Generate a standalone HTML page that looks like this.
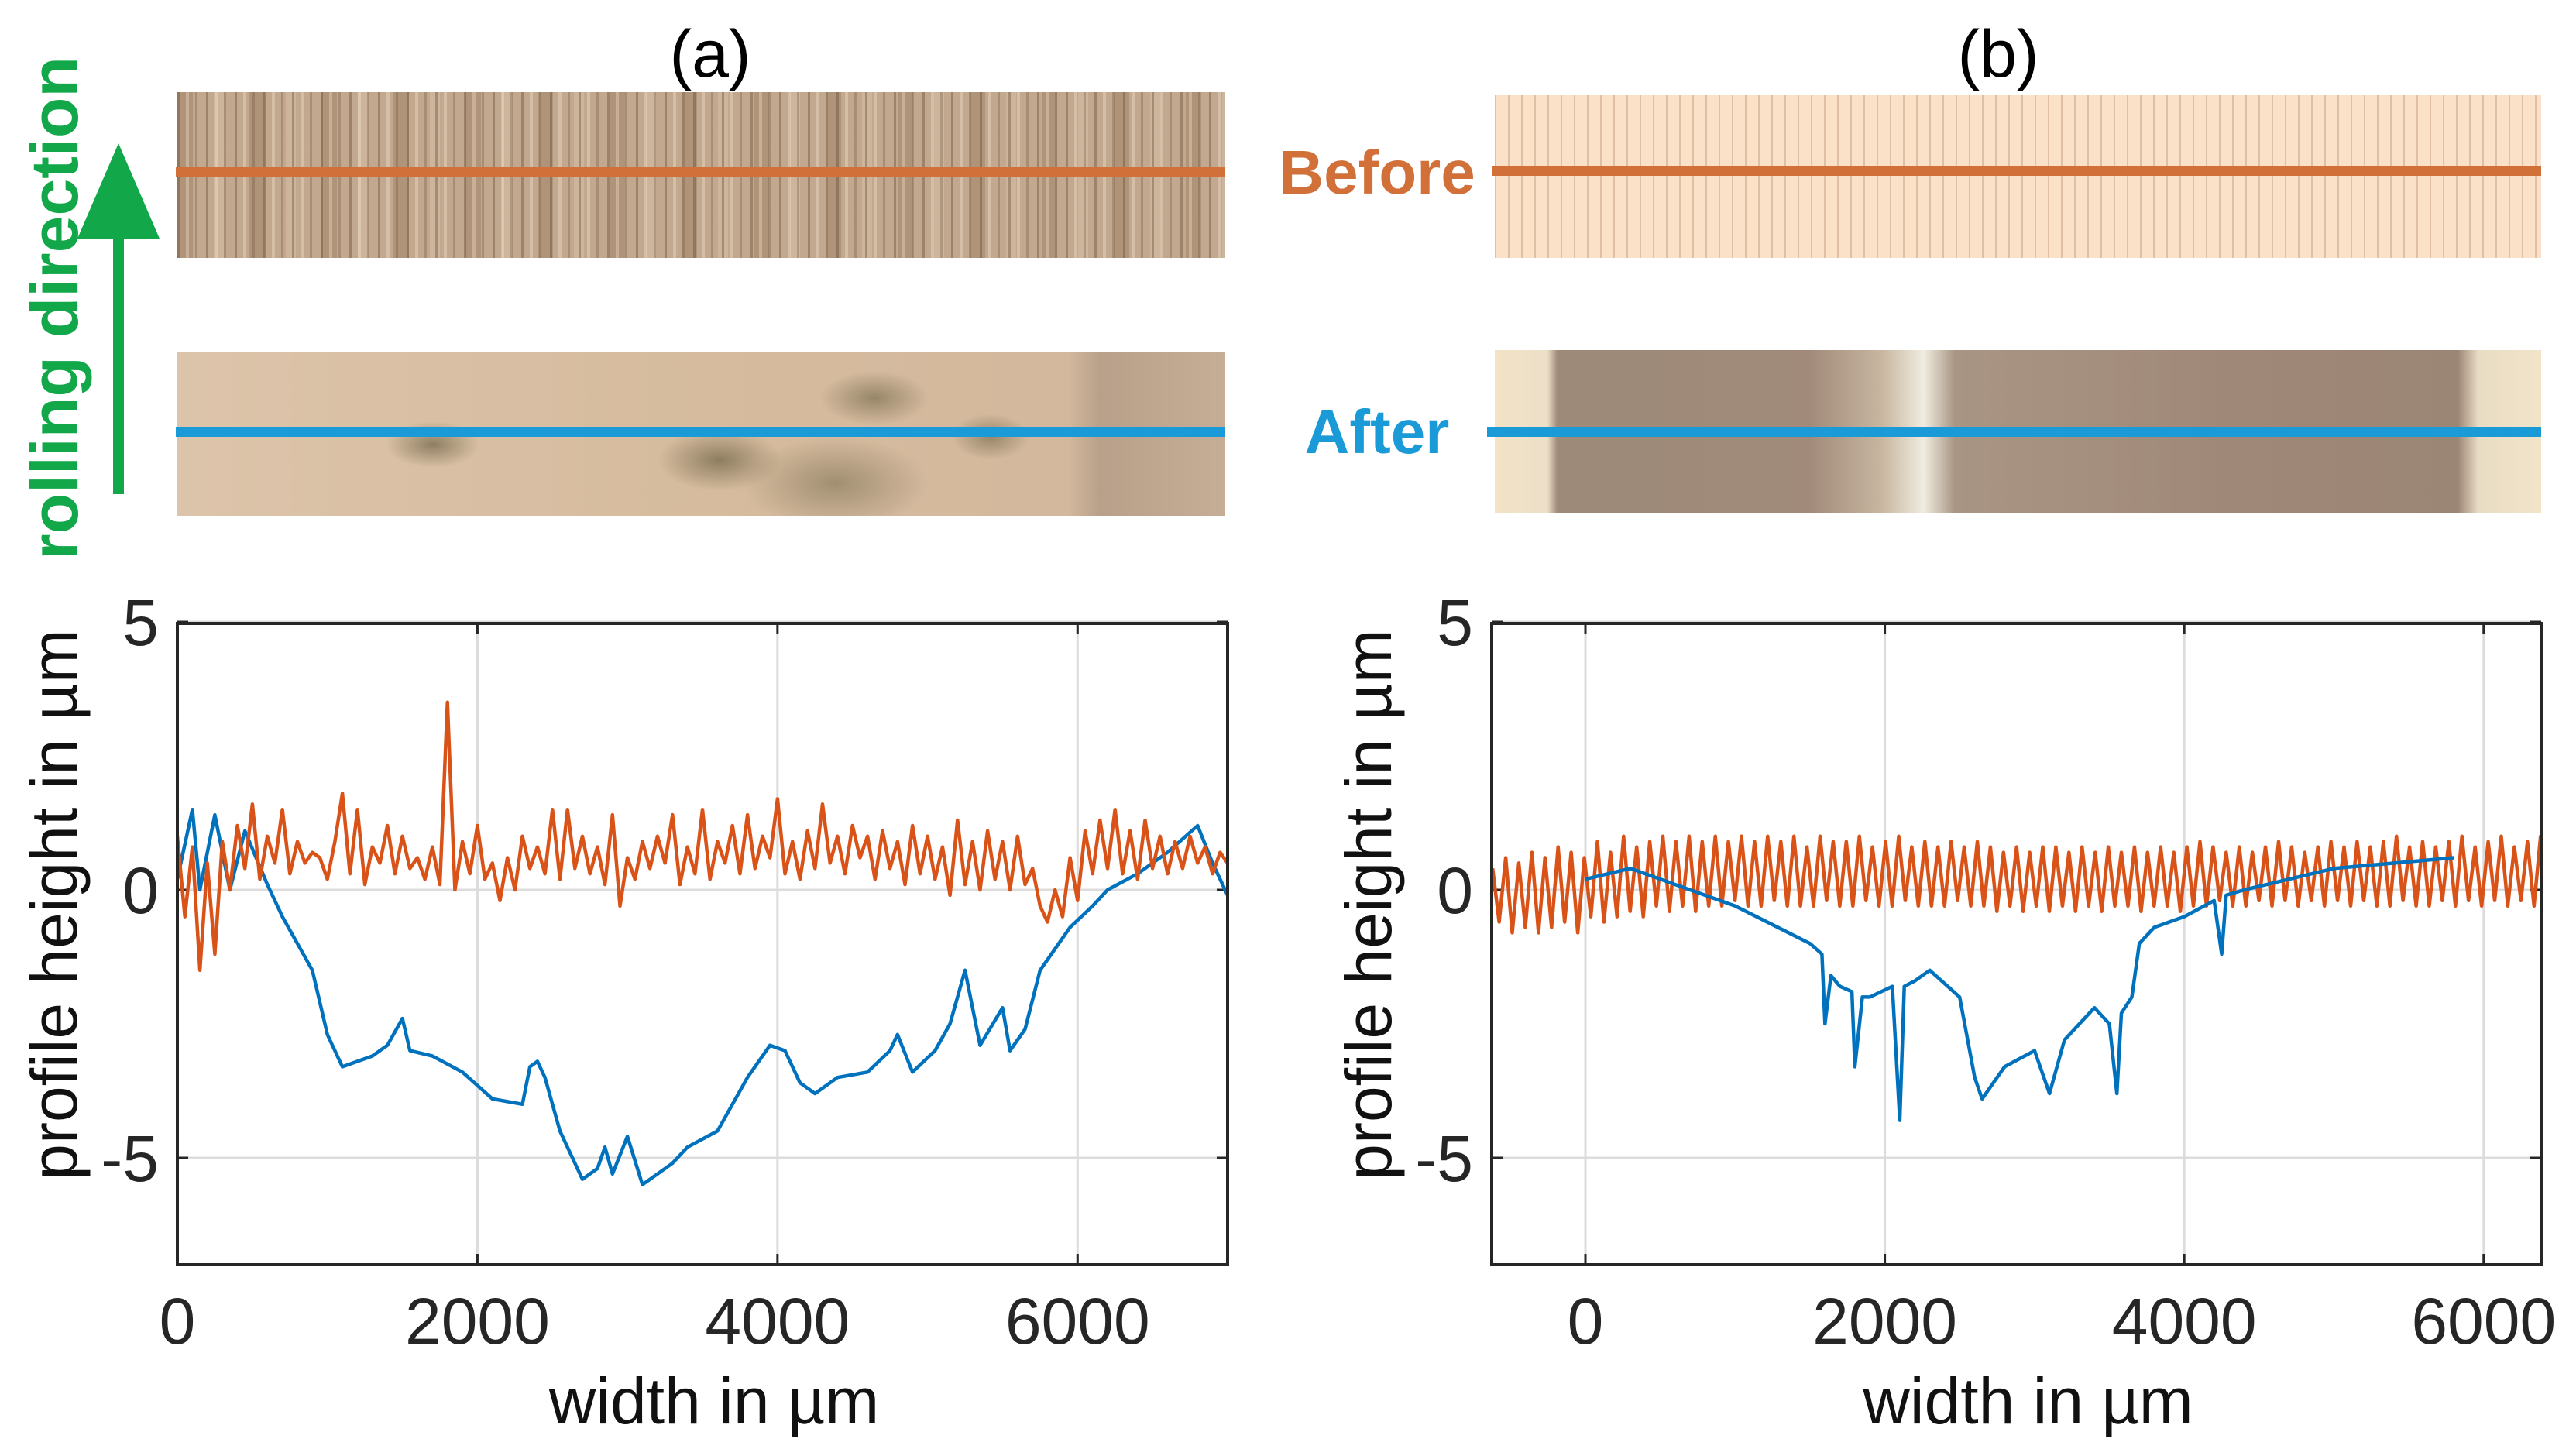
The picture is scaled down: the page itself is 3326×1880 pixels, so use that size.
<!DOCTYPE html>
<html><head><meta charset="utf-8">
<style>
html,body{margin:0;padding:0;background:#fff;}
body{width:3326px;height:1880px;position:relative;overflow:hidden;font-family:"Liberation Sans",sans-serif;}
.img{position:absolute;}
#bA{left:229px;top:119px;width:1353px;height:214px;background:
repeating-linear-gradient(90deg,rgba(90,60,40,.35) 0 3px,transparent 3px 11px,rgba(255,240,220,.3) 11px 15px,transparent 15px 23px,rgba(110,80,55,.3) 23px 26px,transparent 26px 37px),
repeating-linear-gradient(90deg,rgba(120,90,60,.25) 0 20px,transparent 20px 47px,rgba(230,210,190,.3) 47px 60px,transparent 60px 93px),
#c2a88e;}
#aA{left:229px;top:454px;width:1353px;height:212px;background:
radial-gradient(ellipse 60px 30px at 330px 120px,rgba(110,100,70,.7),transparent),
radial-gradient(ellipse 80px 40px at 700px 140px,rgba(110,100,70,.7),transparent),
radial-gradient(ellipse 70px 35px at 900px 60px,rgba(110,100,70,.6),transparent),
radial-gradient(ellipse 120px 60px at 850px 170px,rgba(110,100,70,.5),transparent),
radial-gradient(ellipse 50px 30px at 1050px 110px,rgba(110,100,70,.6),transparent),
linear-gradient(90deg,#dcc4aa 0,#d6bb9e 50%,#d3b89d 85%,#b9a08a 88%,#c6ad95 100%);}
#bB{left:1930px;top:123px;width:1351px;height:210px;background:
repeating-linear-gradient(90deg,rgba(170,130,100,.35) 0 2px,transparent 2px 17px),#fbe1c8;}
#aB{left:1930px;top:452px;width:1351px;height:210px;background:
linear-gradient(90deg,#f2e2c6 0,#ede0c8 5%,#9d8a78 6%,#a18a7a 30%,#c8b6a0 37%,#f0ece0 41%,#a99584 44%,#a08878 70%,#9b8575 92%,#e8dcc4 94%,#f2e4c9 100%),#a08a78;}
</style></head><body>
<div class="img" id="bA"></div>
<div class="img" id="aA"></div>
<div class="img" id="bB"></div>
<div class="img" id="aB"></div>
<svg id="svg" width="3326" height="1880" style="position:absolute;left:0;top:0" xmlns="http://www.w3.org/2000/svg" font-family="Liberation Sans, sans-serif">
<g>
<rect x="227" y="216" width="1355" height="13" fill="#d2703a"/>
<rect x="227" y="551" width="1355" height="13" fill="#1a9ad6"/>
<rect x="1926" y="214" width="1355" height="13" fill="#d2703a"/>
<rect x="1920" y="551" width="1361" height="13" fill="#1a9ad6"/>
</g>
<text x="917" y="99" font-size="86" text-anchor="middle">(a)</text>
<text x="2580" y="99" font-size="86" text-anchor="middle">(b)</text>
<text x="1778" y="250" font-size="80" font-weight="bold" fill="#d2703a" text-anchor="middle">Before</text>
<text x="1778" y="585" font-size="80" font-weight="bold" fill="#1a9ad6" text-anchor="middle">After</text>
<text transform="translate(100,398) rotate(-90)" font-size="86" font-weight="bold" fill="#12a84a" text-anchor="middle">rolling direction</text>
<g>
<rect x="146" y="300" width="14" height="338" fill="#12a84a"/>
<polygon points="153,185 100,308 206,308" fill="#12a84a"/>
</g>
<g id="plots"></g>
</svg>
<script>
// Panel (a) data
const aXTicks=[0,2000,4000,6000];
const aXTickLabels=["0","2000","4000","6000"];
const yTicks=[5,0,-5];
const yTickLabels=["5","0","-5"];
const aBeforeStart=0, aBeforeStep=50;
const aBefore=[1.0,-0.5,0.8,-1.5,0.5,-1.2,0.9,0.0,1.2,0.4,1.6,0.2,1.0,0.5,1.5,0.3,0.9,0.5,0.7,0.6,0.2,0.9,1.8,0.3,1.5,0.1,0.8,0.5,1.2,0.3,1.0,0.4,0.6,0.2,0.8,0.1,3.5,0.0,0.9,0.3,1.2,0.2,0.5,-0.2,0.6,0.0,1.0,0.4,0.8,0.3,1.5,0.2,1.5,0.4,1.0,0.3,0.8,0.1,1.4,-0.3,0.6,0.2,0.9,0.4,1.0,0.5,1.4,0.1,0.8,0.3,1.5,0.2,0.9,0.5,1.2,0.3,1.4,0.4,1.0,0.6,1.7,0.3,0.9,0.2,1.1,0.4,1.6,0.5,1.0,0.3,1.2,0.6,1.0,0.2,1.1,0.4,0.9,0.1,1.2,0.3,1.0,0.2,0.8,-0.1,1.3,0.1,0.9,0.0,1.1,0.2,0.9,0.0,1.0,0.1,0.4,-0.3,-0.6,0.0,-0.5,0.6,-0.2,1.1,0.3,1.3,0.4,1.5,0.3,1.1,0.2,1.3,0.4,1.0,0.3,0.9,0.4,1.0,0.5,0.8,0.3,0.7,0.5];
const aAfterX=[0,100,150,250,350,450,600,700,900,1000,1100,1300,1400,1500,1550,1700,1900,2100,2300,2350,2400,2450,2550,2700,2800,2850,2900,3000,3100,3200,3300,3400,3600,3800,3950,4050,4150,4250,4400,4600,4750,4800,4900,5050,5150,5250,5350,5500,5550,5650,5750,5950,6100,6200,6400,6600,6800,6900,7000];
const aAfterY=[0.2,1.5,0,1.4,0,1.1,0.1,-0.5,-1.5,-2.7,-3.3,-3.1,-2.9,-2.4,-3.0,-3.1,-3.4,-3.9,-4.0,-3.3,-3.2,-3.5,-4.5,-5.4,-5.2,-4.8,-5.3,-4.6,-5.5,-5.3,-5.1,-4.8,-4.5,-3.5,-2.9,-3.0,-3.6,-3.8,-3.5,-3.4,-3.0,-2.7,-3.4,-3.0,-2.5,-1.5,-2.9,-2.2,-3.0,-2.6,-1.5,-0.7,-0.3,0,0.3,0.7,1.2,0.5,-0.1];
// Panel (b) data
const bXTicks=[0,2000,4000,6000];
const bXTickLabels=["0","2000","4000","6000"];
const bBeforeStart=-620, bBeforeStep=43.75;
const bBefore=[0.4,-0.6,0.6,-0.8,0.5,-0.7,0.7,-0.8,0.6,-0.7,0.8,-0.6,0.7,-0.8,0.6,-0.5,0.9,-0.6,0.7,-0.5,1.0,-0.4,0.8,-0.5,0.9,-0.3,1.0,-0.4,0.9,-0.3,1.0,-0.4,0.9,-0.3,1.0,-0.3,0.9,-0.2,1.0,-0.3,0.9,-0.3,1.0,-0.2,0.9,-0.3,1.0,-0.3,0.8,-0.3,1.0,-0.2,0.9,-0.3,0.9,-0.3,1.0,-0.2,0.8,-0.3,0.9,-0.3,1.0,-0.2,0.8,-0.3,0.9,-0.3,0.8,-0.3,0.9,-0.2,0.8,-0.3,0.9,-0.3,0.8,-0.4,0.7,-0.3,0.8,-0.4,0.7,-0.3,0.8,-0.4,0.8,-0.3,0.7,-0.4,0.8,-0.3,0.7,-0.4,0.8,-0.3,0.7,-0.3,0.8,-0.4,0.7,-0.3,0.8,-0.3,0.7,-0.4,0.8,-0.3,0.9,-0.3,0.8,-0.2,0.7,-0.3,0.8,-0.3,0.7,-0.2,0.8,-0.3,0.9,-0.2,0.8,-0.3,0.7,-0.2,0.8,-0.3,0.9,-0.2,0.8,-0.3,0.9,-0.2,0.8,-0.3,0.9,-0.3,1.0,-0.2,0.8,-0.3,0.9,-0.3,0.8,-0.2,0.9,-0.3,1.0,-0.2,0.8,-0.3,0.9,-0.2,1.0,-0.3,0.8,-0.2,0.9,-0.3,1.0,0.0];
const bAfterX=[0,300,600,1000,1500,1580,1600,1640,1700,1780,1800,1850,1900,2050,2100,2130,2200,2300,2500,2600,2650,2800,3000,3100,3200,3400,3500,3550,3580,3650,3700,3800,4000,4200,4250,4280,4400,5000,5800];
const bAfterY=[0.2,0.4,0.1,-0.3,-1.0,-1.2,-2.5,-1.6,-1.8,-1.9,-3.3,-2.0,-2.0,-1.8,-4.3,-1.8,-1.7,-1.5,-2.0,-3.5,-3.9,-3.3,-3.0,-3.8,-2.8,-2.2,-2.5,-3.8,-2.3,-2.0,-1.0,-0.7,-0.5,-0.2,-1.2,-0.1,0.0,0.4,0.6];

const NS="http://www.w3.org/2000/svg";
const plots=document.getElementById('plots');
const Y0=1149, YS=69.2, TOP=805, BOT=1633;
function yPx(v){return Y0-v*YS;}
function mk(tag,attrs,parent){const e=document.createElementNS(NS,tag);for(const k in attrs)e.setAttribute(k,attrs[k]);(parent||plots).appendChild(e);return e;}
function drawPanel(id,L,R,xmin,xmax,xTicks,xLabels,series){
  const xPx=v=>L+(v-xmin)/(xmax-xmin)*(R-L);
  const g=mk('g',{});
  
  
  xTicks.forEach((t,i)=>{
    const gl=mk('line',{x1:xPx(t),x2:xPx(t),y1:TOP,y2:BOT,stroke:'#dcdcdc','stroke-width':3},g);
    
    
    mk('line',{x1:xPx(t),x2:xPx(t),y1:BOT,y2:BOT-14,stroke:'#262626','stroke-width':3},g);
    mk('line',{x1:xPx(t),x2:xPx(t),y1:TOP,y2:TOP+14,stroke:'#262626','stroke-width':3},g);
    const tx=mk('text',{x:xPx(t),y:1735,'font-size':84,'text-anchor':'middle',fill:'#262626'},g);
    tx.textContent=xLabels[i];
    
    
  });
  yTicks.forEach((t,i)=>{
    const gl=mk('line',{x1:L,x2:R,y1:yPx(t),y2:yPx(t),stroke:'#dcdcdc','stroke-width':3},g);
    
    
    mk('line',{x1:L,x2:L+14,y1:yPx(t),y2:yPx(t),stroke:'#262626','stroke-width':3},g);
    mk('line',{x1:R,x2:R-14,y1:yPx(t),y2:yPx(t),stroke:'#262626','stroke-width':3},g);
    const tx=mk('text',{x:L-24,y:yPx(t)+30,'font-size':84,'text-anchor':'end',fill:'#262626'},g);
    tx.textContent=yTickLabels[i];
    
    
  });
  const clipId='clip'+id;
  const cp=mk('clipPath',{id:clipId},g);mk('rect',{x:L,y:TOP,width:R-L,height:BOT-TOP},cp);
  series.forEach(s=>{
    const d=s.xs.map((x,i)=>(i?'L':'M')+xPx(x).toFixed(1)+' '+yPx(s.ys[i]).toFixed(1)).join(' ');
    const p=mk('path',{d:d,fill:'none',stroke:s.color,'stroke-width':4.5,'stroke-linejoin':'round','clip-path':'url(#'+clipId+')'},g);
    
    
  });
  const box=mk('rect',{x:L,y:TOP,width:R-L,height:BOT-TOP,fill:'none',stroke:'#262626','stroke-width':4},g);
  
  
  const xl=mk('text',{x:(L+R)/2+15,y:1838,'font-size':84,'text-anchor':'middle',fill:'#111'},g);
  xl.textContent='width in µm';
  
  
  const yl=mk('text',{transform:'translate('+(L-130)+',1168) rotate(-90)','font-size':84,'text-anchor':'middle',fill:'#111'},g);
  yl.textContent='profile height in µm';
  
  
}
const aBX=aBefore.map((v,i)=>aBeforeStart+i*aBeforeStep);
const bBX=bBefore.map((v,i)=>bBeforeStart+i*bBeforeStep);
drawPanel('a',229,1585,0,7000,aXTicks,aXTickLabels,[
 {xs:aAfterX,ys:aAfterY,color:'#0072BD',name:'after-series-a'},
 {xs:aBX,ys:aBefore,color:'#D95319',name:'before-series-a'}]);
drawPanel('b',1926,3281,-626,6384,bXTicks,bXTickLabels,[
 {xs:bBX,ys:bBefore,color:'#D95319',name:'before-series-b'},
 {xs:bAfterX,ys:bAfterY,color:'#0072BD',name:'after-series-b'}]);
</script>
</body></html>
